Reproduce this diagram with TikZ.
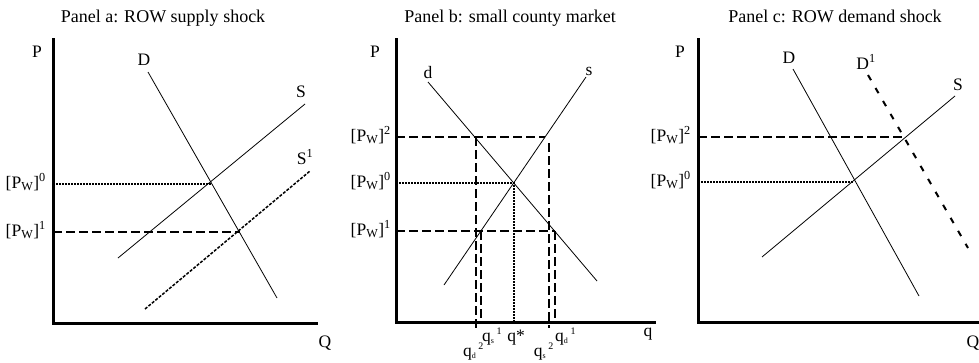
\documentclass[tikz,border=0pt]{standalone}
\usepackage{fontspec}
\setmainfont{Liberation Serif}
\newcommand{\pw}[1]{[P\textsubscript{W}]\textsuperscript{#1}}
\newcommand{\qlab}[2]{q\textsubscript{\fontsize{8}{8}\selectfont #1}\textsuperscript{\,\fontsize{10}{10}\selectfont #2}}
\begin{document}
\begin{tikzpicture}[x=1pt,y=-1pt,
  every node/.style={inner sep=0pt,font=\fontsize{17.5}{19}\selectfont},
  ttl/.style={anchor=base,font=\fontsize{18}{20}\selectfont},
  pwlab/.style={anchor=base east},
  axis/.style={line width=3pt,line join=miter},
  curve/.style={line width=0.8pt},
  pwdash/.style={line width=2pt,dash pattern=on 9pt off 4pt},
  pwdot/.style={line width=1.6pt,dash pattern=on 1.5pt off 1.5pt},
  shiftS/.style={line width=1.5pt,dash pattern=on 3pt off 1.5pt},
  shiftD/.style={line width=2pt,dash pattern=on 6pt off 9pt}]
  \useasboundingbox (0,0) rectangle (979,362);
  % Panel a
  \node[ttl] (ta) at (163,22) {Panel a: ROW supply shock};
  \draw[pwdot] (53,184) -- (212,184);
  \draw[pwdash] (53,232) -- (240,232);
  \draw[curve] (148,72) -- (277,298);
  \draw[curve] (118,258) -- (305,104);
  \draw[shiftS] (145,309) -- (310,171);
  \draw[axis] (53,38) -- (53,323) -- (318,323);
  \node (pa) at (37,52) {P};
  \node (qa) at (325,343) {Q};
  \node (da) at (144,60) {D};
  \node (sa) at (301,92) {S};
  \node (s1a) at (305,157) {S\textsuperscript{1}};
  \node[pwlab] (pa0) at (46,188) {\pw{0}};
  \node[pwlab] (pa1) at (46,236) {\pw{1}};
  % Panel b
  \node[ttl] (tb) at (510,22) {Panel b: small county market};
  \draw[pwdash] (396,137) -- (545,137);
  \draw[pwdash] (476,137) -- (476,328);
  \draw[pwdash] (549,143) -- (549,328);
  \draw[pwdot] (396,183) -- (514,183) -- (514,322);
  \draw[pwdash] (396,231) -- (555,231);
  \draw[pwdash] (481,231) -- (481,322);
  \draw[pwdash] (555,231) -- (555,322);
  \draw[curve] (428,82) -- (597,281);
  \draw[curve] (444,285) -- (586,77);
  \draw[axis] (396,38) -- (396,322) -- (656,322);
  \node (pb) at (375,52) {P};
  \node (qb) at (648,334) {q};
  \node (db) at (428,73) {d};
  \node (sb) at (589,71) {s};
  \node[pwlab] (pb2) at (391,141) {\pw{2}};
  \node[pwlab] (pb0) at (391,187) {\pw{0}};
  \node[pwlab] (pb1) at (391,235) {\pw{1}};
  \node[anchor=base east] (qd2) at (484,356) {\qlab{d}{2}};
  \node[anchor=base west] (qs1) at (482,341) {\qlab{s}{1}};
  \node[anchor=base] (qst) at (516,341) {q*};
  \node[anchor=base east] (qs2) at (554,356) {\qlab{s}{2}};
  \node[anchor=base west] (qd1) at (555,341) {\qlab{d}{1}};
  % Panel c
  \node[ttl] (tc) at (835,22) {Panel c: ROW demand shock};
  \draw[pwdash] (698,137) -- (905,137);
  \draw[pwdot] (698,182) -- (854,182);
  \draw[curve] (793,69) -- (919,296);
  \draw[shiftD] (868,75) -- (968,248);
  \draw[curve] (762,257) -- (955,96);
  \draw[axis] (698,38) -- (698,322) -- (979,322);
  \node (pc) at (680,52) {P};
  \node (qc) at (973,343) {Q};
  \node (dc) at (789,58) {D};
  \node (d1c) at (866,62) {D\textsuperscript{1}};
  \node (sc) at (958,85) {S};
  \node[pwlab] (pc2) at (691,141) {\pw{2}};
  \node[pwlab] (pc0) at (691,186) {\pw{0}};
\end{tikzpicture}
\end{document}
